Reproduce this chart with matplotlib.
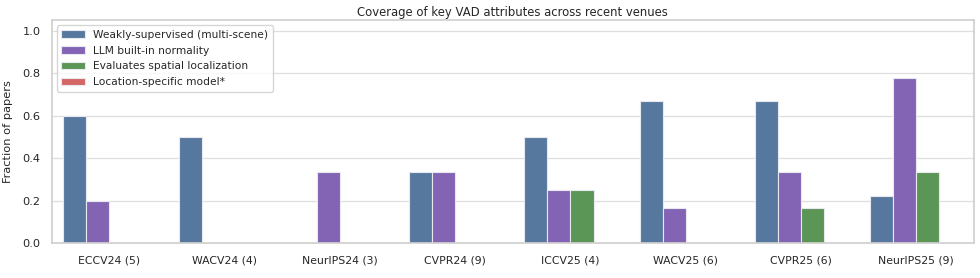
#!/usr/bin/env python3
"""Coverage of key VAD attributes across recent venues."""

import pandas as pd
import seaborn as sns
import matplotlib
matplotlib.use("Agg")
import matplotlib.pyplot as plt

venues = ["ECCV24 (5)", "WACV24 (4)", "NeurIPS24 (3)", "CVPR24 (9)",
          "ICCV25 (4)", "WACV25 (6)", "CVPR25 (6)", "NeurIPS25 (9)"]
attributes = ["Weakly-supervised (multi-scene)", "LLM built-in normality",
              "Evaluates spatial localization", "Location-specific model*"]
weakly = [0.6, 0.5, 0.0, 1 / 3, 0.5, 2 / 3, 2 / 3, 2 / 9]
llm = [0.2, 0.0, 1 / 3, 1 / 3, 0.25, 1 / 6, 1 / 3, 7 / 9]
spatial = [0.0, 0.0, 0.0, 0.0, 0.25, 0.0, 1 / 6, 1 / 3]
location = [0.0, 0.0, 0.0, 0.0, 0.0, 0.0, 0.0, 0.0]
colors = ["#56789e", "#8363b4", "#5b9656", "#d46666"]


def build_frame():
    rows = []
    for attr, vals in zip(attributes, [weakly, llm, spatial, location]):
        for v, frac in zip(venues, vals):
            rows.append({"venue": v, "attribute": attr, "fraction": frac})
    return pd.DataFrame(rows)


def plot(df):
    sns.set_theme(style="whitegrid")
    fig = plt.figure(figsize=(9.8, 2.78), dpi=100)
    ax = fig.add_axes([0.0528, 0.126, 0.941, 0.802])
    sns.barplot(data=df, x="venue", y="fraction", hue="attribute",
                hue_order=attributes, order=venues, palette=colors,
                saturation=1, edgecolor="#e8e8f0", linewidth=0.8, ax=ax)

    ax.set_ylim(0, 1.05)
    ax.set_xlim(-0.5, len(venues) - 0.5)
    ax.set_xlabel("")
    ax.set_ylabel("Fraction of papers", fontsize=8.2)
    ax.yaxis.set_label_coords(-0.042, 0.5)
    ax.set_title("Coverage of key VAD attributes across recent venues",
                 fontsize=8.4, pad=3)
    ax.tick_params(axis="x", labelsize=7.8, pad=3)
    ax.tick_params(axis="y", labelsize=8.2, pad=2)
    ax.grid(axis="y", color="#dedede", linewidth=0.9)
    ax.grid(axis="x", visible=False)
    ax.legend(loc="upper left", fontsize=7.7, frameon=True,
              borderaxespad=0.5, handlelength=2.2, labelspacing=0.55)
    for s in ax.spines.values():
        s.set_color("#d0d0d0")
    fig.savefig("out.png", dpi=100)


if __name__ == "__main__":
    plot(build_frame())
